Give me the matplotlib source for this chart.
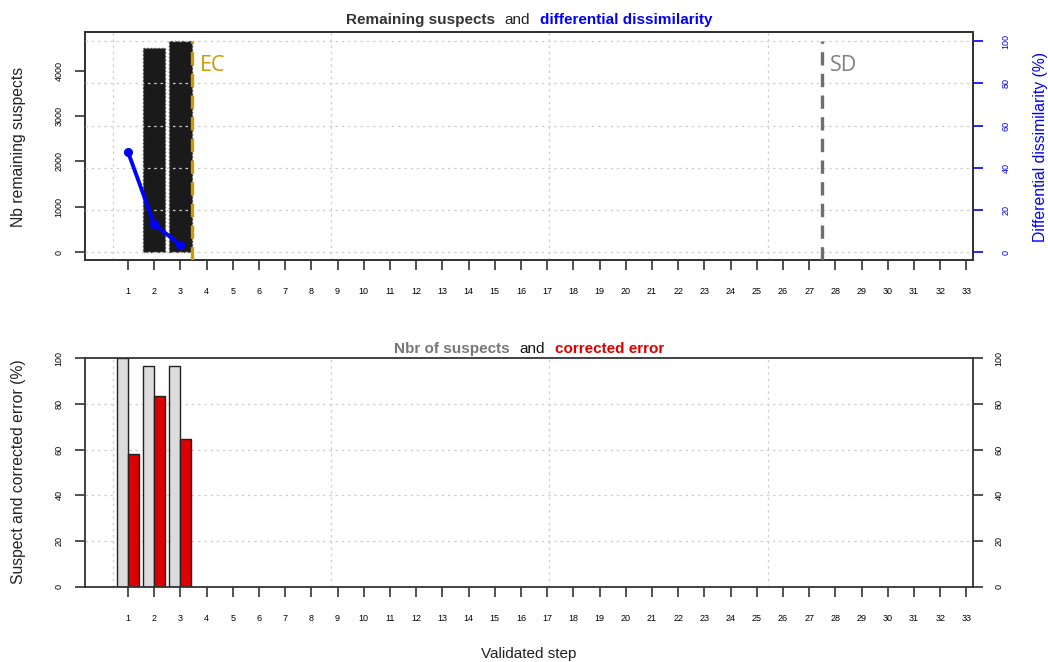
import numpy as np
import matplotlib
matplotlib.use('Agg')
import matplotlib.pyplot as plt

plt.rcParams['font.family'] = ['Liberation Sans', 'DejaVu Sans']

# data
steps = np.arange(1, 34)
remaining = [0, 4510, 4650]            # Nb remaining suspects (black bars)
diss_steps = [1, 2, 3]
dissimilarity = [47.6, 13.3, 3.5]      # differential dissimilarity (%)
suspect_pct = [100, 96.6, 96.6]        # Nbr of suspects (%)
corrected_pct = [58.1, 83.5, 64.7]     # corrected error (%)
ec_step = 3.45
sd_step = 27.5
vgrid = [0.417, 8.75, 17.08, 25.42]

W, H = 1048, 662
fig = plt.figure(figsize=(W / 100, H / 100), dpi=100)

def ax_rect(x0, y0, x1, y1):
    return [x0 / W, 1 - y1 / H, (x1 - x0) / W, (y1 - y0) / H]

AX_COL = '#333333'
GRID = dict(color='#cfcfcf', linestyle=(0, (2, 3)), linewidth=0.9)
XLIM = (-0.64, 33.25)

def style_x(ax):
    ax.set_xlim(*XLIM)
    ax.set_xticks(steps)
    ax.set_xticklabels([str(s) for s in steps], fontsize=6.5)
    ax.tick_params(axis='x', length=7.5, width=1.2, color=AX_COL, pad=12)
    for s in ax.spines.values():
        s.set_color(AX_COL)
        s.set_linewidth(1.3)

# top panel
ax1 = fig.add_axes(ax_rect(85, 32.3, 973, 260))
nz = [i for i, v in enumerate(remaining) if v > 0]
ax1.bar(steps[nz], np.array(remaining)[nz], width=0.86, color='#1a1a1a',
        edgecolor='#444444', linestyle=':', linewidth=1, zorder=2)
ax1.set_ylim(-170, 4846)
ax1.set_yticks([0, 1000, 2000, 3000, 4000])
ax1.set_yticklabels(['0', '1000', '2000', '3000', '4000'], fontsize=6.5,
                    rotation=90, va='center')
ax1.tick_params(axis='y', length=7.5, width=1.2, color=AX_COL, pad=8)
style_x(ax1)
for g in vgrid:
    ax1.axvline(g, zorder=3, **GRID)

ax1b = ax1.twinx()
ax1b.set_ylim(-3.64, 104.2)
ax1b.set_xlim(*XLIM)
for v in [20, 40, 60, 80, 100, 0]:
    ax1b.axhline(v, zorder=3, **GRID)
ax1b.plot(diss_steps, dissimilarity, color='#0000ff', linewidth=2.8,
          marker='o', markersize=5.5, zorder=5)
ax1b.vlines(ec_step, -3.64, 100, colors='#cc9a06', linestyles=(0, (4, 2.5)),
            linewidth=2.4, zorder=6)
ax1b.vlines(sd_step, -3.64, 100, colors='#6e6e6e', linestyles=(0, (4, 2.5)),
            linewidth=2.4, zorder=6)
ax1b.text(ec_step + 0.28, 88.5, 'EC', color='#cc9a06', fontsize=15.5,
          family=['Open Sans', 'DejaVu Sans'], va='center')
ax1b.text(sd_step + 0.28, 88.5, 'SD', color='#808080', fontsize=15.5,
          family=['Open Sans', 'DejaVu Sans'], va='center')
ax1b.set_yticks([0, 20, 40, 60, 80, 100])
ax1b.set_yticklabels(['0', '20', '40', '60', '80', '100'], fontsize=6.5,
                     rotation=90, va='center', color='#0000ff')
ax1b.tick_params(axis='y', length=7.5, width=1.2, color='#0000ff', pad=13)
for s in ax1b.spines.values():
    s.set_color(AX_COL)
    s.set_linewidth(1.3)

# bottom panel
ax2 = fig.add_axes(ax_rect(85, 358.3, 973, 586.7))
bw = 0.42
ax2.bar(np.array(steps[:3]) - bw / 2, suspect_pct, width=bw, color='#dcdcdc',
        edgecolor='#222222', linewidth=1, zorder=2)
ax2.bar(np.array(steps[:3]) + bw / 2, corrected_pct, width=bw, color='#dd0000',
        edgecolor='#222222', linewidth=1, zorder=2)
ax2.set_ylim(0, 100)
for v in [20, 40, 60, 80]:
    ax2.axhline(v, zorder=1, **GRID)
for g in vgrid:
    ax2.axvline(g, zorder=1, **GRID)
ax2.set_yticks([0, 20, 40, 60, 80, 100])
ax2.set_yticklabels(['0', '20', '40', '60', '80', '100'], fontsize=6.5,
                    rotation=90, va='center')
ax2.tick_params(axis='y', length=7.5, width=1.2, color=AX_COL, pad=8,
                right=True, labelright=True)
style_x(ax2)

# titles and axis labels
def multi_title(y, parts, x_center=529):
    r = fig.canvas.get_renderer()
    texts = []
    for s, c, w in parts:
        t = fig.text(0, 1 - y / H, s, color=c, fontsize=11, fontweight=w,
                     va='center')
        texts.append(t)
    widths = [t.get_window_extent(renderer=r).width for t in texts]
    gap = 10
    total = sum(widths) + gap * (len(widths) - 1)
    x = x_center - total / 2
    for t, w in zip(texts, widths):
        t.set_x(x / W)
        x += w + gap

multi_title(20, [('Remaining suspects', '#333333', 'bold'),
                 ('and', '#222222', 'normal'),
                 ('differential dissimilarity', '#0000ff', 'bold')])
multi_title(349, [('Nbr of suspects', '#777777', 'bold'),
                  ('and', '#111111', 'normal'),
                  ('corrected error', '#e00000', 'bold')])

fig.text(19 / W, 1 - 147 / H, 'Nb remaining suspects', rotation=90,
         fontsize=11.3, color='#222222', ha='center', va='center')
fig.text(1040 / W, 1 - 147 / H, 'Differential dissimilarity (%)', rotation=90,
         fontsize=11.3, color='#0000ff', ha='center', va='center')
fig.text(19 / W, 1 - 472 / H, 'Suspect and corrected error (%)', rotation=90,
         fontsize=11.3, color='#222222', ha='center', va='center')
fig.text(529 / W, 1 - 654 / H, 'Validated step', fontsize=11,
         color='#222222', ha='center', va='center')

fig.savefig('out.png', dpi=100)
